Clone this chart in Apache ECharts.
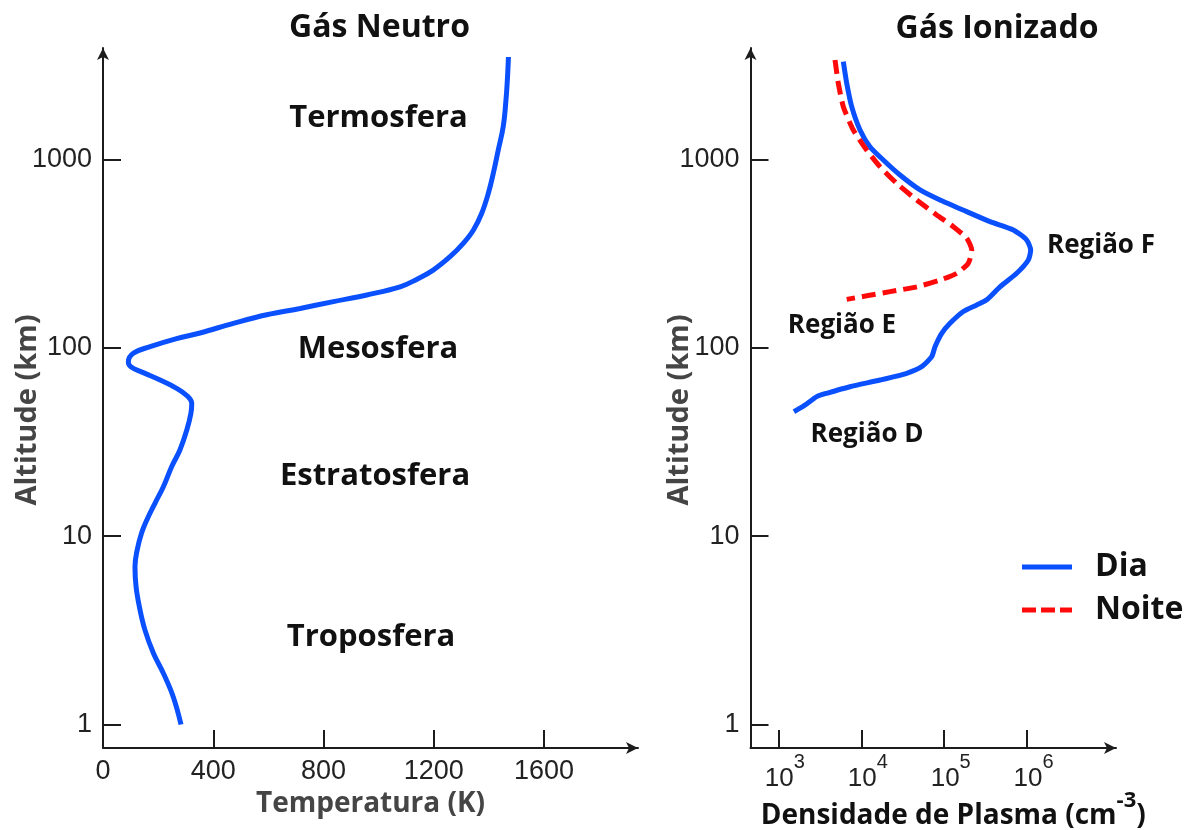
<!DOCTYPE html>
<html>
<head>
<meta charset="utf-8">
<script src="https://cdn.jsdelivr.net/npm/echarts@6/dist/echarts.min.js"></script>
<style>
  html, body { margin: 0; padding: 0; background: #fff; }
  #chart { width: 1190px; height: 830px; }
</style>
</head>
<body>
<div id="chart"></div>
<script>
// Neutral gas: temperature (K) against altitude (km)
const neutroTemp = [283, 255, 219, 183, 152, 132, 120, 116, 124, 140,
  159, 189, 219, 249, 279, 304, 319, 322, 306, 267,
  207, 146, 101, 92, 110, 171, 267, 352, 473, 594,
  715, 836, 957, 1078, 1138, 1198, 1259, 1307, 1344, 1374,
  1398, 1416, 1434, 1452, 1462, 1467, 1471];
const neutroAlt = [1.0, 1.4, 1.87, 2.39, 3.18, 4.22, 5.39, 6.89, 8.45, 10.4,
  12.2, 15.0, 18.3, 23.4, 28.7, 36.6, 45.0, 50.8, 55.5, 61.0,
  67.5, 73.9, 79.5, 84.5, 93.6, 101.5, 112, 120, 135, 150,
  162, 176, 191, 211, 231, 259, 305, 359, 423, 519,
  662, 846, 1124, 1495, 2072, 2647, 3507];

// Ionised gas: plasma density (cm^-3) against altitude (km), day profile
const diaDens = [6070, 6670, 7660, 9650, 12700, 18400, 29300, 51100, 89000, 187000,
  357000, 682000, 989000, 1105000, 1034000, 749000, 471000, 326000, 247000, 170000,
  117500, 93300, 77500, 70700, 53500, 35300, 16800, 7300, 3820, 2900,
  2090, 1540];
const diaAlt = [3311, 2542, 1910, 1436, 1171, 995, 828, 690, 610, 529,
  468, 423, 374, 331, 293, 249, 211, 180, 169, 156,
  135, 119.5, 101.5, 89.8, 79.5, 73.3, 67.5, 62.2, 57.4, 55.1,
  49.7, 45.8];

// Night profile
const noiteDens = [4820, 5280, 6070, 8010, 11600, 16800, 26700, 46600, 81200, 129000,
  187000, 215000, 195000, 141500, 89000, 46600, 22200, 11600, 6670];
const noiteAlt = [3381, 2542, 1910, 1436, 1124, 917, 748, 610, 508, 440,
  382, 331, 281, 249, 229, 211, 199, 189, 181];

// Tick values
const altTicks = [1, 10, 100, 1000];
const tempTicks = [0, 400, 800, 1200, 1600];
const densTicks = [1e3, 1e4, 1e5, 1e6];

// Texts
const panelTitles = ['Gás Neutro', 'Gás Ionizado'];
const layerNames = ['Termosfera', 'Mesosfera', 'Estratosfera', 'Troposfera'];
const regionNames = ['Região F', 'Região E', 'Região D'];
const seriesNames = ['Dia', 'Noite'];

const zip = (xs, ys) => xs.map((x, i) => [x, ys[i]]);

const BOLD = "'Open Sans', 'Noto Sans', sans-serif";
const NARROW = "'Liberation Sans Narrow', 'Liberation Sans', Arial, sans-serif";
const BLUE = '#0a50ff';
const RED = '#ff0a0a';
const AXIS = '#1c1c1c';

const axisLine = {
  show: true,
  lineStyle: { color: AXIS, width: 2 },
  symbol: ['none', 'arrow'],
  symbolSize: [9, 12]
};
const axisTick = (vals) => ({
  show: true, inside: true, length: 18, customValues: vals,
  lineStyle: { color: AXIS, width: 2 }
});

function label(x, y, text, size, color, extra) {
  return Object.assign({
    type: 'text', x: x, y: y, silent: true,
    style: {
      text: text, fill: color || '#111',
      fontFamily: BOLD, fontWeight: 'bold', fontSize: size,
      align: 'center', verticalAlign: 'middle'
    }
  }, extra || {});
}

const chart = echarts.init(document.getElementById('chart'), null, { renderer: 'canvas' });

chart.setOption({
  backgroundColor: '#ffffff',
  animation: false,
  grid: [
    { left: 103, top: 48, width: 535, height: 700, outerBoundsMode: 'none', containLabel: false },
    { left: 750.5, top: 48, width: 365.5, height: 700, outerBoundsMode: 'none', containLabel: false }
  ],
  xAxis: [
    {
      gridIndex: 0, type: 'value', min: 0, max: 1941,
      axisLine: axisLine, axisTick: axisTick(tempTicks),
      splitLine: { show: false },
      axisLabel: {
        customValues: tempTicks, margin: 10,
        formatter: v => String(v),
        fontFamily: NARROW, fontSize: 27, color: '#222'
      },
      name: 'Temperatura (K)', nameLocation: 'middle', nameGap: 42,
      nameTextStyle: { fontFamily: BOLD, fontWeight: 'bold', fontSize: 28, color: '#454545' }
    },
    {
      gridIndex: 1, type: 'log', logBase: 10, min: 460.8, max: 1.181e7,
      axisLine: axisLine, axisTick: axisTick(densTicks),
      splitLine: { show: false },
      axisLabel: {
        customValues: densTicks, margin: 4, padding: [0, 0, 0, 13],
        formatter: v => '{b|10}{s|' + Math.round(Math.log10(v)) + '}',
        rich: {
          b: { fontFamily: NARROW, fontSize: 26, color: '#222', lineHeight: 40, verticalAlign: 'bottom' },
          s: { fontFamily: NARROW, fontSize: 20, color: '#222', lineHeight: 22, verticalAlign: 'top' }
        }
      },
      name: '{b|Densidade de Plasma (cm}{s|-3}{b|)}', nameLocation: 'middle',
      nameGap: 42, nameMoveOverlap: false,
      nameTextStyle: {
        padding: [0, 0, 0, 40],
        rich: {
          b: { fontFamily: BOLD, fontWeight: 'bold', fontSize: 28, color: '#111', lineHeight: 40, verticalAlign: 'bottom' },
          s: { fontFamily: BOLD, fontWeight: 'bold', fontSize: 22, color: '#111', lineHeight: 24, verticalAlign: 'top' }
        }
      }
    }
  ],
  yAxis: [
    {
      gridIndex: 0, type: 'log', logBase: 10, min: 0.75, max: 3914,
      axisLine: axisLine, axisTick: axisTick(altTicks),
      splitLine: { show: false },
      axisLabel: {
        customValues: altTicks, margin: 11,
        formatter: v => String(Math.round(v)),
        fontFamily: NARROW, fontSize: 27, color: '#222'
      }
    },
    {
      gridIndex: 1, type: 'log', logBase: 10, min: 0.75, max: 3914,
      axisLine: axisLine, axisTick: axisTick(altTicks),
      splitLine: { show: false },
      axisLabel: {
        customValues: altTicks, margin: 11,
        formatter: v => String(Math.round(v)),
        fontFamily: NARROW, fontSize: 27, color: '#222'
      }
    }
  ],
  legend: {
    orient: 'vertical', left: 1022, top: 551, padding: 0,
    itemWidth: 50, itemHeight: 5, itemGap: 11,
    itemStyle: { borderWidth: 0 },
    data: [
      { name: seriesNames[0], icon: 'path://M0 0H50V5H0Z' },
      { name: seriesNames[1], icon: 'path://M0 0H14V5H0Z M19 0H33V5H19Z M38 0H50V5H38Z' }
    ],
    textStyle: {
      fontFamily: BOLD, fontWeight: 'bold', fontSize: 32, color: '#111',
      padding: [0, 0, 0, 18]
    }
  },
  series: [
    {
      name: 'Temperatura', type: 'line', xAxisIndex: 0, yAxisIndex: 0,
      data: zip(neutroTemp, neutroAlt),
      symbol: 'none', smooth: 0.4,
      lineStyle: { color: BLUE, width: 5 }, itemStyle: { color: BLUE }
    },
    {
      name: seriesNames[0], type: 'line', xAxisIndex: 1, yAxisIndex: 1,
      data: zip(diaDens, diaAlt),
      symbol: 'none', smooth: 0.2,
      lineStyle: { color: BLUE, width: 5 }, itemStyle: { color: BLUE }
    },
    {
      name: seriesNames[1], type: 'line', xAxisIndex: 1, yAxisIndex: 1,
      data: zip(noiteDens, noiteAlt),
      symbol: 'none', smooth: 0.2,
      lineStyle: { color: RED, width: 5, type: [14, 7] }, itemStyle: { color: RED }
    }
  ],
  graphic: [
    label(379.5, 27.5, panelTitles[0], 32),
    label(997, 29, panelTitles[1], 32),
    label(378.5, 118, layerNames[0], 31),
    label(378, 349, layerNames[1], 31),
    label(375, 476, layerNames[2], 31),
    label(371, 637, layerNames[3], 31),
    label(1101, 246, regionNames[0], 26),
    label(842, 326, regionNames[1], 26),
    label(867, 435, regionNames[2], 26),
    label(28, 410, 'Altitude (km)', 29, '#454545', { rotation: Math.PI / 2 }),
    label(680, 410, 'Altitude (km)', 29, '#454545', { rotation: Math.PI / 2 })
  ]
});
</script>
</body>
</html>
